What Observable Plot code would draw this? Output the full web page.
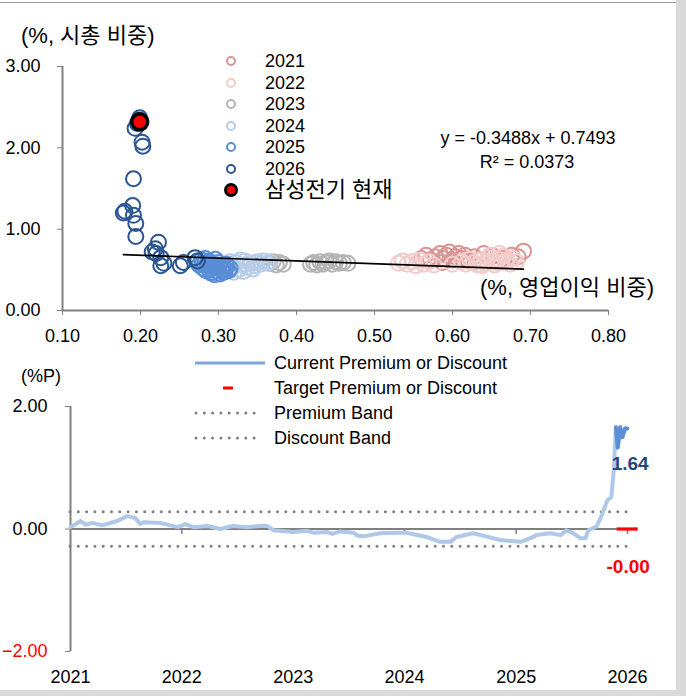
<!DOCTYPE html>
<html>
<head>
<meta charset="utf-8">
<script src="https://cdn.jsdelivr.net/npm/d3@7"></script>
<script src="https://cdn.jsdelivr.net/npm/@observablehq/plot@0.6"></script>
<style>
  html, body { margin: 0; padding: 0; background: #fff; }
  #wrap { position: relative; width: 686px; height: 696px; overflow: hidden; background: #fff;
    font-family: "Liberation Sans", Arial, "Noto Sans CJK KR", sans-serif; color: #000; }
  .abs { position: absolute; white-space: nowrap; line-height: 1; }
  .lbl { font-size: 18px; }
  .kr { font-family: "Liberation Sans", "Noto Sans CJK KR", sans-serif; font-size: 22px; }
  #topPlot { position: absolute; left: 0; top: 0; }
  #botPlot { position: absolute; left: 0; top: 340px; }
</style>
</head>
<body>
<div id="wrap">
  <div id="topPlot"></div>
  <div id="botPlot"></div>
</div>
<script>
// ---------------- DATA ----------------
const years = ["2021", "2022", "2023", "2024", "2025", "2026"];
const currentName = "삼성전기 현재";
const yTitleTop = "(%, 시총 비중)";
const xTitleTop = "(%, 영업이익 비중)";
const yTitleBottom = "(%P)";

// [operating profit share %, market cap share %]
const pts2021 = [[0.560,0.64],[0.566,0.68],[0.572,0.62],[0.578,0.66],[0.584,0.70],[0.588,0.64],[0.592,0.68],[0.596,0.72],[0.600,0.62],[0.604,0.66],[0.608,0.70],[0.612,0.64],[0.616,0.68],[0.620,0.61],[0.628,0.66],[0.640,0.70],[0.652,0.67],[0.665,0.64],[0.676,0.68],[0.684,0.66],[0.691,0.73],[0.587,0.59]];
const pts2022 = [[0.531,0.58],[0.536,0.61],[0.542,0.57],[0.548,0.60],[0.553,0.55],[0.558,0.62],[0.563,0.57],[0.570,0.60],[0.576,0.56],[0.600,0.57],[0.612,0.60],[0.617,0.57],[0.622,0.63],[0.627,0.59],[0.632,0.56],[0.636,0.62],[0.641,0.58],[0.645,0.65],[0.650,0.60],[0.654,0.56],[0.658,0.63],[0.662,0.59],[0.666,0.67],[0.670,0.62],[0.674,0.57],[0.678,0.64],[0.682,0.60],[0.660,0.70],[0.648,0.68],[0.638,0.55],[0.656,0.59],[0.668,0.61],[0.644,0.61]];
const pts2023 = [[0.366,0.58],[0.370,0.60],[0.374,0.56],[0.378,0.59],[0.383,0.57],[0.418,0.57],[0.422,0.59],[0.426,0.56],[0.430,0.60],[0.434,0.57],[0.438,0.59],[0.442,0.61],[0.446,0.57],[0.450,0.60],[0.455,0.58],[0.460,0.59],[0.466,0.58]];
const pts2024 = [[0.305,0.50],[0.312,0.56],[0.318,0.53],[0.322,0.59],[0.326,0.50],[0.330,0.56],[0.334,0.61],[0.338,0.53],[0.342,0.58],[0.346,0.55],[0.350,0.60],[0.354,0.57],[0.358,0.61],[0.362,0.58],[0.366,0.60],[0.320,0.47],[0.332,0.48],[0.344,0.51],[0.328,0.62],[0.315,0.60],[0.336,0.57],[0.348,0.59]];
const pts2025 = [[0.272,0.60],[0.275,0.56],[0.278,0.62],[0.280,0.52],[0.282,0.58],[0.284,0.49],[0.286,0.55],[0.288,0.61],[0.290,0.46],[0.291,0.51],[0.293,0.57],[0.295,0.44],[0.297,0.53],[0.298,0.48],[0.300,0.59],[0.302,0.45],[0.304,0.51],[0.306,0.55],[0.307,0.47],[0.309,0.50],[0.311,0.54],[0.313,0.49],[0.315,0.52],[0.283,0.64],[0.296,0.63],[0.288,0.50],[0.301,0.53],[0.279,0.57],[0.293,0.47],[0.299,0.56],[0.305,0.48],[0.286,0.59],[0.310,0.57],[0.290,0.54]];
const pts2026 = [[0.273,0.61],[0.270,0.65],[0.255,0.59],[0.251,0.55],[0.230,0.58],[0.226,0.55],[0.226,0.65],[0.220,0.70],[0.215,0.72],[0.219,0.76],[0.223,0.84],[0.194,0.91],[0.194,1.07],[0.191,1.17],[0.178,1.20],[0.180,1.22],[0.190,1.29],[0.191,1.62],[0.203,2.02],[0.202,2.07],[0.193,2.24],[0.196,2.30],[0.198,2.34],[0.199,2.37]];
const currentPoint = [0.199, 2.32];

const trendSlope = -0.3488;
const trendIntercept = 0.7493;
const trendR2 = 0.0373;

const xTicksTop = [0.10, 0.20, 0.30, 0.40, 0.50, 0.60, 0.70, 0.80];
const yTicksTop = [0, 1, 2, 3];

// Bottom chart: premium/discount (%P)
const pdDates = ["2021-01-01","2021-02-03","2021-02-19","2021-03-14","2021-04-15","2021-06-03","2021-07-06","2021-08-01","2021-08-18","2021-08-28","2021-10-22","2021-11-24","2021-12-19","2022-01-12","2022-02-08","2022-03-26","2022-05-08","2022-06-18","2022-08-03","2022-09-16","2022-10-08","2022-10-28","2023-01-01","2023-02-17","2023-03-08","2023-04-23","2023-05-09","2023-06-04","2023-07-17","2023-08-01","2023-08-19","2023-10-13","2023-12-05","2024-01-07","2024-03-13","2024-04-26","2024-05-31","2024-06-19","2024-08-13","2024-09-24","2024-11-09","2025-01-15","2025-02-17","2025-03-08","2025-04-22","2025-05-27","2025-06-14","2025-07-07","2025-07-31","2025-08-16","2025-08-26","2025-09-21","2025-10-05","2025-10-27","2025-11-09","2025-11-17","2025-11-24","2025-11-30","2025-12-08","2025-12-15","2025-12-24","2025-12-31"];
const pdValues = [0.03,0.13,0.07,0.10,0.06,0.13,0.21,0.18,0.08,0.11,0.10,0.06,0.03,0.08,0.03,0.05,0.00,0.05,0.03,0.05,0.05,-0.02,-0.05,-0.03,-0.06,-0.05,-0.08,-0.04,-0.06,-0.11,-0.12,-0.07,-0.06,-0.06,-0.13,-0.21,-0.21,-0.13,-0.07,-0.12,-0.18,-0.21,-0.15,-0.10,-0.07,-0.10,-0.02,-0.07,-0.15,-0.15,-0.02,0.04,0.18,0.47,0.52,0.96,1.66,1.33,1.66,1.50,1.64,1.64];
const highlightFrom = "2025-11-24";
const currentPD = 1.64;
const targetPD = -0.00;
const premiumBand = 0.28;
const discountBand = -0.28;
const xTickYears = ["2021","2022","2023","2024","2025","2026"];
const yTicksBottom = [-2, 0, 2];
const legendBottom = ["Current Premium or Discount", "Target Premium or Discount", "Premium Band", "Discount Band"];

// ---------------- STYLES ----------------
const yearColors = ["#d99493", "#f2cbcb", "#b4b4b4", "#b8cde9", "#5a8ed6", "#2c5692"];
const axisGray = "#808080";
const lineLight = "#afc7e8";
const lineDark = "#5b8fd6";
const fontStack = '"Liberation Sans", Arial, sans-serif';

// ---------------- TOP CHART ----------------
const series = [pts2021, pts2022, pts2023, pts2024, pts2025, pts2026];
const allPts = series.flat();
const xExt = d3.extent(allPts, d => d[0]);
const trend = xExt.map(x => ({x, y: trendSlope * x + trendIntercept}));
const xDomTop = [xTicksTop[0], xTicksTop[xTicksTop.length - 1]];
const yDomTop = [yTicksTop[0], yTicksTop[yTicksTop.length - 1]];
const f2 = d3.format(".2f");

const topPlot = Plot.plot({
  width: 686, height: 340,
  marginLeft: 62, marginRight: 78, marginTop: 66, marginBottom: 30,
  style: {fontFamily: fontStack, fontSize: "18px", background: "transparent", overflow: "visible"},
  x: {domain: xDomTop},
  y: {domain: yDomTop},
  marks: [
    Plot.axisX({ticks: xTicksTop, tickFormat: f2, tickSize: 5, tickPadding: 14, stroke: axisGray, fill: "#000", label: null}),
    Plot.axisY({ticks: yTicksTop, tickFormat: f2, tickSize: 5, tickPadding: 17, stroke: axisGray, fill: "#000", label: null}),
    Plot.ruleX([xDomTop[0]], {y1: yDomTop[0], y2: yDomTop[1], stroke: axisGray, strokeWidth: 2}),
    Plot.ruleY([yDomTop[0]], {x1: xDomTop[0], x2: xDomTop[1], stroke: axisGray, strokeWidth: 2}),
    ...series.map((pts, i) => Plot.dot(pts, {x: d => d[0], y: d => d[1], r: 7.5, stroke: yearColors[i], strokeWidth: 2, fill: "none"})),
    Plot.line(trend, {x: "x", y: "y", stroke: "#000", strokeWidth: 1.6}),
    Plot.dot([currentPoint], {x: d => d[0], y: d => d[1], r: 8, fill: "#ff0000", stroke: "#000", strokeWidth: 3.5})
  ]
});
document.getElementById("topPlot").appendChild(topPlot);

// ---------------- BOTTOM CHART ----------------
const pd = pdDates.map((d, i) => ({date: new Date(d), v: pdValues[i]}));
const hl = pd.filter(d => d.date >= new Date(highlightFrom));
const last = pd[pd.length - 1];
const tickDates = xTickYears.map(y => new Date(y + "-01-01"));
const xDomBot = [tickDates[0], tickDates[tickDates.length - 1]];
const yDomBot = [yTicksBottom[0], yTicksBottom[yTicksBottom.length - 1]];
const dashSymbol = {draw(ctx) { ctx.rect(-10.5, -1.6, 21, 3.2); }};

const botPlot = Plot.plot({
  width: 686, height: 356,
  marginLeft: 70, marginRight: 59, marginTop: 66, marginBottom: 45,
  style: {fontFamily: fontStack, fontSize: "18px", background: "transparent", overflow: "visible"},
  x: {type: "utc", domain: xDomBot},
  y: {domain: yDomBot},
  color: {type: "identity"},
  marks: [
    Plot.axisX({ticks: tickDates, tickFormat: d3.utcFormat("%Y"), tickSize: 0, tickPadding: 19, fill: "#000", label: null}),
    Plot.axisY({ticks: yTicksBottom, tickFormat: () => "", tickSize: 5, stroke: axisGray, label: null}),
    Plot.text(yTicksBottom, {y: d => d, frameAnchor: "left", textAnchor: "end", dx: -23, text: d => f2(d), fill: d => d < 0 ? "#ff0000" : "#000"}),
    Plot.ruleX([xDomBot[0]], {y1: yDomBot[0], y2: yDomBot[1], stroke: axisGray, strokeWidth: 2}),
    Plot.ruleY([premiumBand, discountBand], {stroke: axisGray, strokeWidth: 3, strokeDasharray: "0,8.3", strokeLinecap: "round"}),
    Plot.ruleY([0], {stroke: axisGray, strokeWidth: 2}),
    Plot.ruleX(tickDates.slice(1), {x: d => d, y1: 0, y2: -0.09, stroke: axisGray, strokeWidth: 1.5}),
    Plot.line(pd, {x: "date", y: "v", stroke: lineLight, strokeWidth: 4, curve: "linear"}),
    Plot.line(hl, {x: "date", y: "v", stroke: lineDark, strokeWidth: 4}),
    Plot.dot([{date: last.date, v: targetPD}], {x: "date", y: "v", symbol: dashSymbol, fill: "#ff0000", stroke: "none"}),
    Plot.text([{date: last.date, v: currentPD}], {x: "date", y: "v", text: d => f2(d.v), dx: 3, dy: 35, fill: "#1f497d", fontWeight: "bold", fontSize: 19}),
    Plot.text([{date: last.date, v: targetPD}], {x: "date", y: "v", text: d => "-" + f2(Math.abs(d.v)), dx: 1, dy: 38, fill: "#ff0000", fontWeight: "bold", fontSize: 19})
  ]
});
document.getElementById("botPlot").appendChild(botPlot);

// ---------------- TEXT / LEGENDS (HTML) ----------------
const wrap = document.getElementById("wrap");
function addDiv(html, css, cls = "abs lbl") {
  const d = document.createElement("div");
  d.className = cls;
  d.innerHTML = html;
  Object.assign(d.style, css);
  wrap.appendChild(d);
  return d;
}
// frame decorations
addDiv("", {left: "0px", top: "2px", width: "676px", height: "1px", background: "#9a9a9a"}, "abs");
addDiv("", {left: "676px", top: "0px", width: "10px", height: "696px", background: "#d9d9d9"}, "abs");
addDiv("", {left: "0px", top: "690px", width: "686px", height: "6px", background: "#d9d9d9"}, "abs");

// titles
addDiv(yTitleTop, {left: "21px", top: "36px", transform: "translateY(-50%)"}, "abs kr");
addDiv(xTitleTop, {left: "480px", top: "288px", transform: "translateY(-50%)"}, "abs kr");
addDiv(yTitleBottom, {left: "21px", top: "376px", transform: "translateY(-50%)"});

// regression text
const fmt4 = d3.format(".4f");
addDiv(`y = ${trendSlope < 0 ? "-" : ""}${fmt4(Math.abs(trendSlope))}x + ${fmt4(trendIntercept)}`, {left: "528px", top: "138px", transform: "translate(-50%,-50%)"});
addDiv(`R² = ${fmt4(trendR2)}`, {left: "527px", top: "162px", transform: "translate(-50%,-50%)"});

// top legend
const legTopY = [61, 82.5, 104, 125.5, 147, 168.5, 190];
years.forEach((y, i) => {
  addDiv(`<svg width="14" height="14" style="display:block"><circle cx="7" cy="7" r="4" fill="none" stroke="${yearColors[i]}" stroke-width="2"/></svg>`,
    {left: "224px", top: (legTopY[i] - 7) + "px"}, "abs");
  addDiv(y, {left: "265px", top: legTopY[i] + "px", transform: "translateY(-50%)"});
});
addDiv(`<svg width="18" height="18" style="display:block"><circle cx="9" cy="9" r="5.5" fill="#ff0000" stroke="#000" stroke-width="3"/></svg>`,
  {left: "222px", top: (legTopY[6] - 9) + "px"}, "abs");
addDiv(currentName, {left: "265px", top: legTopY[6] + "px", transform: "translateY(-50%)"}, "abs kr");

// bottom legend
const legBotY = [363, 388, 413, 438];
const legSym = [
  `<svg width="72" height="8" style="display:block"><line x1="1" y1="4" x2="71" y2="4" stroke="#7fa6dd" stroke-width="3"/></svg>`,
  `<svg width="72" height="8" style="display:block"><rect x="29" y="2.5" width="10" height="3" fill="#ff0000"/></svg>`,
  `<svg width="72" height="8" style="display:block"><line x1="2" y1="4" x2="66" y2="4" stroke="${axisGray}" stroke-width="3" stroke-dasharray="0,8.3" stroke-linecap="round"/></svg>`,
  `<svg width="72" height="8" style="display:block"><line x1="2" y1="4" x2="66" y2="4" stroke="${axisGray}" stroke-width="3" stroke-dasharray="0,8.3" stroke-linecap="round"/></svg>`
];
legendBottom.forEach((t, i) => {
  addDiv(legSym[i], {left: "194px", top: (legBotY[i] - 4) + "px"}, "abs");
  addDiv(t, {left: "274px", top: legBotY[i] + "px", transform: "translateY(-50%)"});
});
</script>
</body>
</html>
